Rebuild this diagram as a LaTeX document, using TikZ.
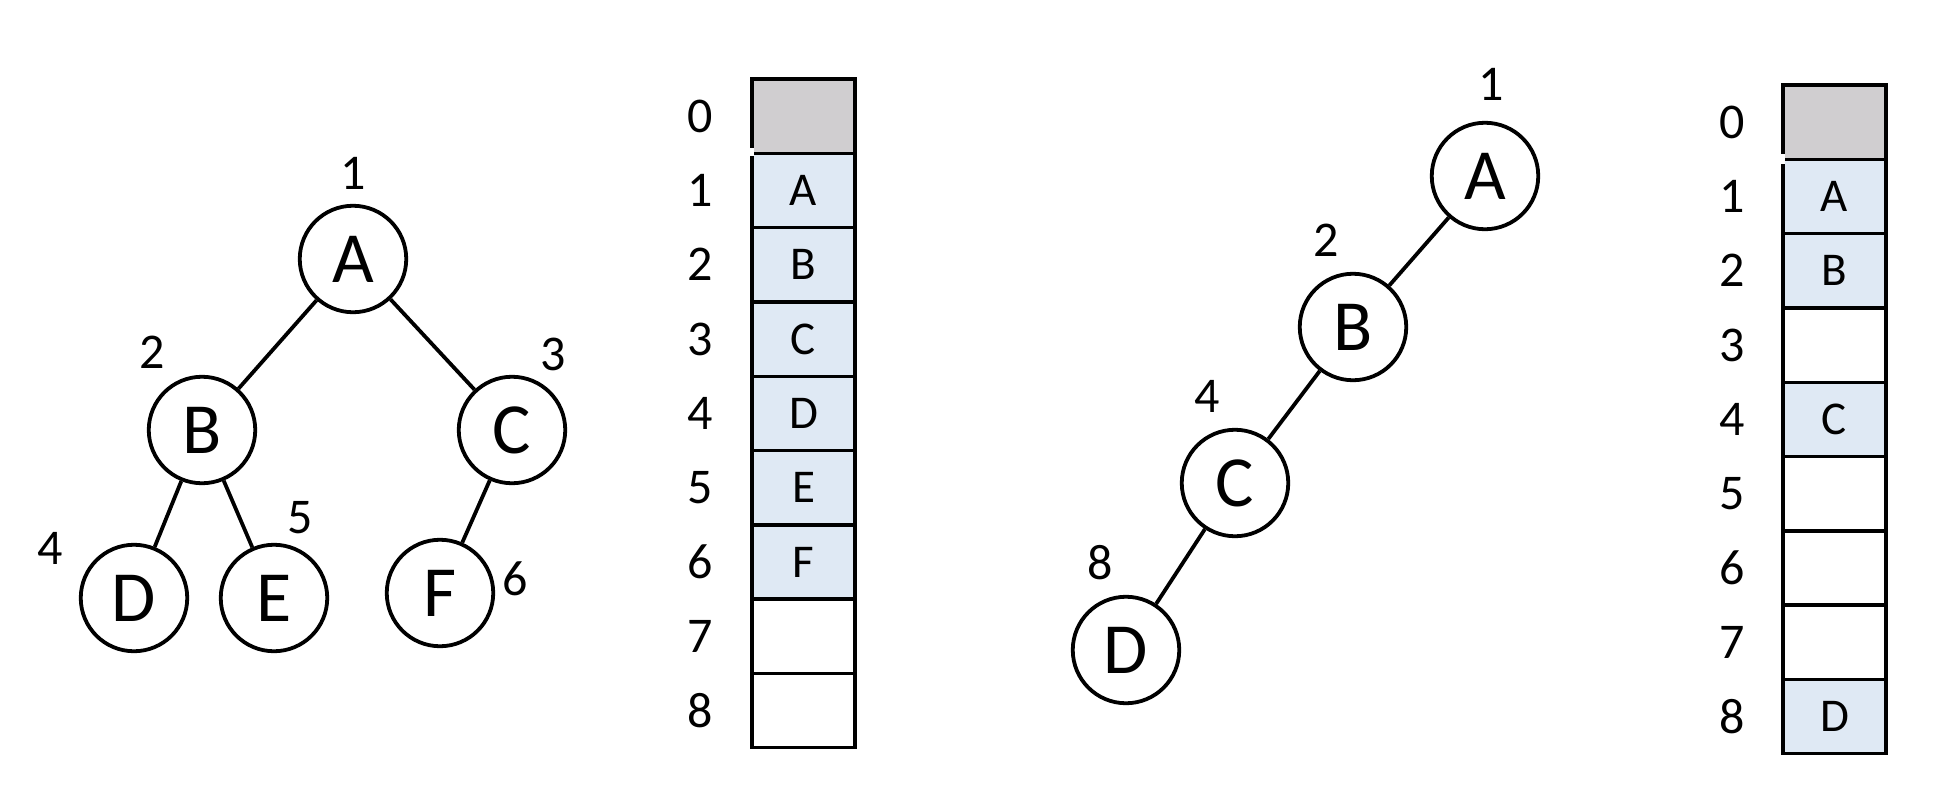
\documentclass[tikz,border=0pt]{standalone}
\usepackage{fontspec}
\setmainfont{Carlito}
\definecolor{cellgray}{HTML}{D0CED0}
\definecolor{cellblue}{HTML}{DFE9F4}
\begin{document}
\begin{tikzpicture}[x=1pt,y=-1pt,
 tnode/.style={circle,draw,line width=3.8pt,minimum size=106.5pt,inner sep=0pt,fill=white,font=\fontsize{72}{72}\selectfont},
 idx/.style={inner sep=0pt,font=\fontsize{50}{50}\selectfont},
 cell/.style={draw,line width=3.4pt,minimum width=103pt,minimum height=74.3pt,inner sep=0pt,font=\fontsize{47}{47}\selectfont},
 edge/.style={line width=3.8pt}]
\useasboundingbox (0,0) rectangle (1942,800);
% ---------- left tree ----------
\node[tnode] (lA) at (353,259) {A};
\node[tnode] (lB) at (202,430) {B};
\node[tnode] (lC) at (512,430) {C};
\node[tnode] (lD) at (134,598) {D};
\node[tnode] (lE) at (274,598) {E};
\node[tnode] (lF) at (440,593) {F};
\draw[edge] (lA) -- (lB);
\draw[edge] (lA) -- (lC);
\draw[edge] (lB) -- (lD);
\draw[edge] (lB) -- (lE);
\draw[edge] (lC) -- (lF);
\node[idx] (ln1) at (353,173) {1};
\node[idx] (ln2) at (152,352) {2};
\node[idx] (ln3) at (553,354) {3};
\node[idx] (ln4) at (50,548) {4};
\node[idx] (ln5) at (300,518) {5};
\node[idx] (ln6) at (515,579) {6};
% ---------- left array ----------
\node[cell,fill=cellgray] (a0) at (803.5,116.15) {};
\node[cell,fill=cellblue] (a1) at (803.5,190.45) {A};
\node[cell,fill=cellblue] (a2) at (803.5,264.75) {B};
\node[cell,fill=cellblue] (a3) at (803.5,339.05) {C};
\node[cell,fill=cellblue] (a4) at (803.5,413.35) {D};
\node[cell,fill=cellblue] (a5) at (803.5,487.65) {E};
\node[cell,fill=cellblue] (a6) at (803.5,561.95) {F};
\node[cell,fill=white] (a7) at (803.5,636.25) {};
\node[cell,fill=white] (a8) at (803.5,710.55) {};
\draw[line width=3.6pt,white] (752,148) -- (752,156);
\foreach \i/\yy in {0/116.15,1/190.45,2/264.75,3/339.05,4/413.35,5/487.65,6/561.95,7/636.25,8/710.55}
  \node[idx] (ai\i) at (700,\yy) {\i};
% ---------- right tree ----------
\node[tnode] (rA) at (1485,176) {A};
\node[tnode] (rB) at (1353,327) {B};
\node[tnode] (rC) at (1235,483) {C};
\node[tnode] (rD) at (1126,650) {D};
\draw[edge] (rA) -- (rB);
\draw[edge] (rB) -- (rC);
\draw[edge] (rC) -- (rD);
\node[idx] (rn1) at (1491,84) {1};
\node[idx] (rn2) at (1326,240) {2};
\node[idx] (rn4) at (1207,396) {4};
\node[idx] (rn8) at (1100,563) {8};
% ---------- right array ----------
\node[cell,fill=cellgray] (b0) at (1834.5,122.15) {};
\node[cell,fill=cellblue] (b1) at (1834.5,196.45) {A};
\node[cell,fill=cellblue] (b2) at (1834.5,270.75) {B};
\node[cell,fill=white] (b3) at (1834.5,345.05) {};
\node[cell,fill=cellblue] (b4) at (1834.5,419.35) {C};
\node[cell,fill=white] (b5) at (1834.5,493.65) {};
\node[cell,fill=white] (b6) at (1834.5,567.95) {};
\node[cell,fill=white] (b7) at (1834.5,642.25) {};
\node[cell,fill=cellblue] (b8) at (1834.5,716.55) {D};
\draw[line width=3.6pt,white] (1783,154) -- (1783,164);
\foreach \i/\yy in {0/122.15,1/196.45,2/270.75,3/345.05,4/419.35,5/493.65,6/567.95,7/642.25,8/716.55}
  \node[idx] (bi\i) at (1732,\yy) {\i};
\end{tikzpicture}
\end{document}
